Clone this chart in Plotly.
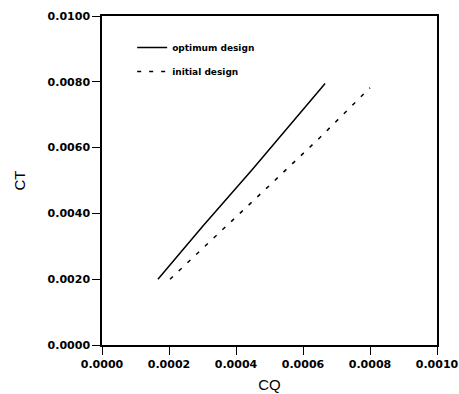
import plotly.graph_objects as go

cq_opt = [0.000167, 0.00030, 0.00045, 0.00060, 0.000666]
ct_opt = [0.00200, 0.00360, 0.00535, 0.00715, 0.00795]
cq_init = [0.000203, 0.00035, 0.00050, 0.00065, 0.00080]
ct_init = [0.00200, 0.00340, 0.00485, 0.00630, 0.00782]

x_ticks = [0.0, 0.0002, 0.0004, 0.0006, 0.0008, 0.0010]
y_ticks = [0.0, 0.0020, 0.0040, 0.0060, 0.0080, 0.0100]

fig = go.Figure()
fig.add_trace(go.Scatter(x=cq_opt, y=ct_opt, mode="lines", name="<b>optimum design</b>",
                         legendgroup="a",
                         line=dict(color="black", width=1.5)))
fig.add_trace(go.Scatter(x=cq_init, y=ct_init, mode="lines", name="<b>initial design</b>",
                         legendgroup="b",
                         line=dict(color="black", width=1.5, dash="4px,8px")))

tickfont = dict(family="DejaVu Sans", size=11, color="black", weight="bold")
titlefont = dict(family="Arial, Liberation Sans, sans-serif", size=15, color="black")
fig.update_layout(
    width=459, height=394,
    margin=dict(l=102, r=22, t=16, b=49),
    paper_bgcolor="white", plot_bgcolor="white",
    showlegend=True,
    legend=dict(x=0.09, y=0.948, xanchor="left", yanchor="top",
                bgcolor="rgba(0,0,0,0)",
                font=dict(size=9, family="DejaVu Sans", color="black"),
                tracegroupgap=5),
    xaxis=dict(range=[0, 0.001], tickvals=x_ticks, tickformat=".4f", automargin=False,
               showgrid=False, zeroline=False, showline=True, linecolor="black", linewidth=1.5,
               mirror=True, ticks="outside", ticklen=8, tickwidth=1.2, tickcolor="black",
               tickfont=tickfont,
               title=dict(text="CQ", font=titlefont, standoff=10)),
    yaxis=dict(range=[0, 0.01], tickvals=y_ticks, tickformat=".4f", automargin=False,
               showgrid=False, zeroline=False, showline=True, linecolor="black", linewidth=1.5,
               mirror=True, ticks="outside", ticklen=8, tickwidth=1.2, tickcolor="black",
               tickfont=tickfont,
               title=dict(text="CT", font=titlefont, standoff=18)),
)
fig.write_html("out.html", config={"displayModeBar": False},
               post_script="document.body.style.margin='0';document.body.style.overflow='hidden';")
